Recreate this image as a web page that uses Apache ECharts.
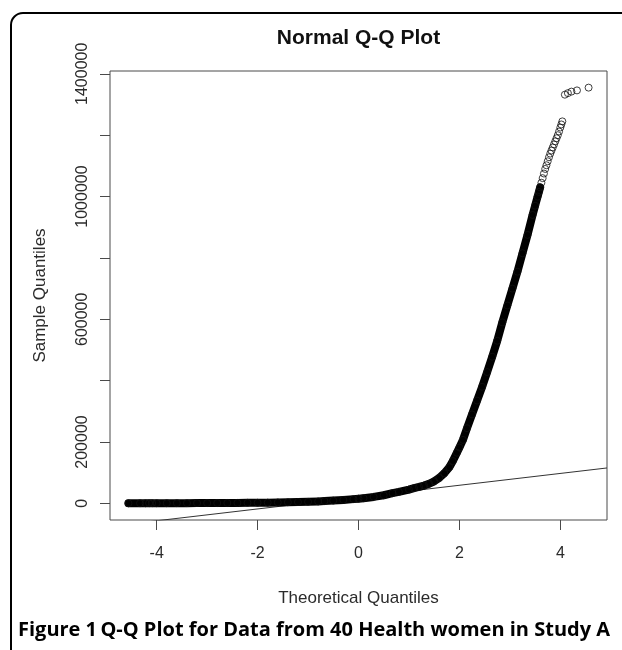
<!DOCTYPE html>
<html>
<head>
<meta charset="utf-8">
<script src="https://cdn.jsdelivr.net/npm/echarts@6/dist/echarts.min.js"></script>
<style>
html,body{margin:0;padding:0;background:#ffffff;}
#chart{width:622px;height:650px;}
</style>
</head>
<body>
<div id="chart"></div>
<script>
// Theoretical quantiles (x) and sample quantiles (y)
const qqX = [
  -4.56, -4.33, -4.22, -4.15, -4.09, -4.00, -3.80, -3.60, -3.40, -3.20,
  -3.00, -2.80, -2.60, -2.40, -2.20, -2.00, -1.80, -1.60, -1.40, -1.20,
  -1.00, -0.80, -0.674, -0.50, -0.30, -0.10, 0.00, 0.10, 0.30, 0.50,
  0.674, 0.80, 1.00, 1.10, 1.20, 1.30, 1.40, 1.50, 1.60, 1.70,
  1.80, 1.87, 1.95, 2.00, 2.07, 2.15, 2.25, 2.35, 2.45, 2.55,
  2.65, 2.75, 2.85, 2.95, 3.05, 3.15, 3.25, 3.35, 3.45, 3.50,
  3.55, 3.575, 3.60, 3.625, 3.65, 3.675, 3.70, 3.725, 3.75, 3.775,
  3.80, 3.825, 3.85, 3.875, 3.90, 3.925, 3.95, 3.975, 4.00, 4.02,
  4.04, 4.09, 4.15, 4.22, 4.33, 4.56
];
const qqY = [
  300, 400, 450, 500, 550, 600, 650, 700, 780, 850,
  950, 1050, 1200, 1450, 1700, 2000, 2400, 2900, 3600, 4300,
  5100, 6300, 7400, 9000, 11200, 13800, 15300, 17000, 21000, 26500,
  33400, 37500, 45000, 49500, 53500, 58000, 64000, 72000, 83000, 98000,
  118000, 138000, 165000, 182000, 207000, 245000, 290000, 335000, 380000, 428000,
  478000, 530000, 590000, 645000, 700000, 755000, 815000, 875000, 940000, 970000,
  1000000, 1015000, 1030000, 1045000, 1060000, 1075000, 1090000, 1102000, 1115000, 1128000,
  1140000, 1150000, 1160000, 1170000, 1180000, 1190000, 1200000, 1212000, 1225000, 1235000,
  1245000, 1332000, 1337000, 1342000, 1346000, 1355000
];
// points up to this theoretical quantile overlap into a solid band
const denseUpTo = 3.6;

// reference line (qqline): intercept and slope
const qqLineIntercept = 20430;
const qqLineSlope = 19284;

// axes
const xRange = [-4.925, 4.925];
const yRange = [-54200, 1409200];
const xTickValues = [-4, -2, 0, 2, 4];
const yTickValues = [0, 200000, 400000, 600000, 800000, 1000000, 1200000, 1400000];
const yLabelValues = [0, 200000, 600000, 1000000, 1400000];

const titleText = 'Normal Q-Q Plot';
const xTitle = 'Theoretical Quantiles';
const yTitle = 'Sample Quantiles';
const captionLabel = 'Figure 1';
const captionText = 'Q-Q Plot for Data from 40 Health women in Study A';

const points = qqX.map((x, i) => [x, qqY[i]]);
const bandPoints = points.filter(p => p[0] <= denseUpTo);
const refLine = xRange.map(x => [x, qqLineIntercept + qqLineSlope * x]);

const plotFont = "'Liberation Sans', Arial, Helvetica, sans-serif";
const textColor = '#2b2b2b';
const axisColor = '#4a4a4a';

const chart = echarts.init(document.getElementById('chart'), null, {renderer: 'canvas'});
chart.setOption({
  animation: false,
  backgroundColor: '#ffffff',
  grid: {
    left: 110, right: 15, top: 71, bottom: 130,
    show: true, borderColor: axisColor, borderWidth: 1, backgroundColor: 'transparent'
  },
  xAxis: {
    type: 'value', min: xRange[0], max: xRange[1],
    axisLine: {show: false, onZero: false},
    splitLine: {show: false},
    axisTick: {show: true, inside: false, length: 10, customValues: xTickValues,
      lineStyle: {color: axisColor, width: 1}},
    axisLabel: {show: true, customValues: xTickValues, margin: 26,
      fontFamily: plotFont, fontSize: 16, color: textColor,
      formatter: v => String(v)},
    name: xTitle, nameLocation: 'middle', nameGap: 70,
    nameTextStyle: {fontFamily: plotFont, fontSize: 17, color: textColor}
  },
  yAxis: {
    type: 'value', min: yRange[0], max: yRange[1],
    axisLine: {show: false, onZero: false},
    splitLine: {show: false},
    axisTick: {show: true, inside: false, length: 10, customValues: yTickValues,
      lineStyle: {color: axisColor, width: 1}},
    axisLabel: {show: true, customValues: yLabelValues, rotate: 90, margin: 19,
      fontFamily: plotFont, fontSize: 16, color: textColor,
      formatter: v => String(v)},
    name: yTitle, nameLocation: 'middle', nameRotate: 90, nameGap: 61,
    nameTextStyle: {fontFamily: plotFont, fontSize: 17, color: textColor}
  },
  series: [
    {
      type: 'line', data: refLine, showSymbol: false, clip: true,
      lineStyle: {color: '#333333', width: 1}, silent: true, z: 1
    },
    {
      type: 'line', data: bandPoints, showSymbol: false, clip: true,
      lineStyle: {color: '#000000', width: 8, cap: 'round', join: 'round'}, silent: true, z: 2
    },
    {
      type: 'scatter', data: points, symbol: 'circle', symbolSize: 7, clip: true,
      itemStyle: {color: 'rgba(0,0,0,0)', borderColor: '#111111', borderWidth: 1}, z: 3
    }
  ],
  graphic: [
    {type: 'rect', shape: {x: 11, y: 13, width: 900, height: 900, r: 12},
      style: {fill: 'none', stroke: '#000000', lineWidth: 2}, silent: true},
    {type: 'text', x: 358.5, y: 38,
      style: {text: titleText, textAlign: 'center', textVerticalAlign: 'middle',
        font: "bold 21px 'Liberation Sans', Arial, sans-serif", fill: '#111111'}},
    {type: 'text', x: 18, y: 630,
      style: {text: '{a|' + captionLabel + '} {b|' + captionText + '}',
        textVerticalAlign: 'middle',
        rich: {
          a: {fontFamily: "'Open Sans', 'Noto Sans', sans-serif", fontWeight: 'bold', fontSize: 20, fill: '#000000'},
          b: {fontFamily: "'Open Sans', 'Noto Sans', sans-serif", fontWeight: 'bold', fontSize: 20, fill: '#000000'}
        }}}
  ]
});
</script>
</body>
</html>
